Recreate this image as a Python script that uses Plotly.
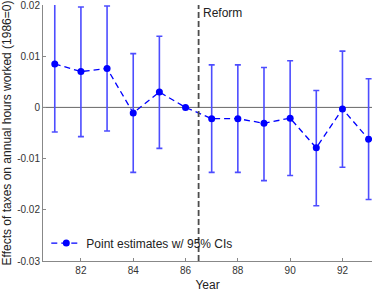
import plotly.graph_objects as go

years = [81, 82, 83, 84, 85, 86, 87, 88, 89, 90, 91, 92, 93]
estimates = [0.0085, 0.0070, 0.0076, -0.0011, 0.0030, 0.0, -0.0022, -0.0022, -0.0031, -0.0021, -0.0079, -0.0003, -0.0062]
ci_upper = [0.0220, 0.0196, 0.0198, 0.0105, 0.0139, 0.0, 0.0083, 0.0083, 0.0078, 0.0091, 0.0033, 0.0110, 0.0056]
ci_lower = [-0.0048, -0.0057, -0.0046, -0.0127, -0.0080, 0.0, -0.0127, -0.0127, -0.0143, -0.0133, -0.0192, -0.0117, -0.0180]
reform_year = 86.5
y_ticks = [0.02, 0.01, 0, -0.01, -0.02, -0.03]
y_tick_labels = ["0.02", "0.01", "0", "-0.01", "-0.02", "-0.03"]
x_ticks = [82, 84, 86, 88, 90, 92]

err_plus = [u - e for u, e in zip(ci_upper, estimates)]
err_minus = [e - l for e, l in zip(estimates, ci_lower)]

font = "Liberation Sans, Arial, sans-serif"

fig = go.Figure()
fig.add_trace(go.Scatter(
    x=years, y=estimates, mode="lines+markers",
    name="Point estimates w/ 95% CIs",
    line=dict(color="#0000ff", width=1.3, dash="6px,4px"),
    marker=dict(color="#0000ff", size=7),
    error_y=dict(type="data", symmetric=False, array=err_plus, arrayminus=err_minus,
                 color="#4d4dff", thickness=1.6, width=3),
))

fig.add_shape(type="line", xref="paper", x0=0, x1=1, yref="y", y0=0, y1=0,
              line=dict(color="#666666", width=1), layer="below")
fig.add_shape(type="line", xref="x", x0=reform_year, x1=reform_year, yref="paper", y0=0, y1=1,
              line=dict(color="#4d4d4d", width=1.8, dash="6px,3px"))
fig.add_annotation(x=reform_year, xref="x", xanchor="left", xshift=2,
                   y=1, yref="paper", yanchor="top", yshift=1,
                   text="Reform", showarrow=False,
                   font=dict(family=font, size=12, color="#222222"))

fig.update_layout(
    width=372, height=292,
    margin=dict(l=43, r=0, t=5, b=31),
    paper_bgcolor="white", plot_bgcolor="white",
    font=dict(family=font, size=10, color="#333333"),
    showlegend=True,
    legend=dict(x=0.01, y=0.07, xanchor="left", yanchor="middle",
                bgcolor="rgba(0,0,0,0)", font=dict(family=font, size=12, color="#222222")),
    xaxis=dict(range=[80.55, 93.13], tickvals=x_ticks, ticks="inside", ticklen=3,
               tickcolor="#888888", showline=True, linecolor="#888888", linewidth=1,
               showgrid=False, zeroline=False, automargin=False,
               title=dict(text="Year", font=dict(family=font, size=12, color="#222222"), standoff=5),
               tickfont=dict(family=font, size=10, color="#333333")),
    yaxis=dict(range=[-0.03, 0.02], tickvals=y_ticks, ticktext=y_tick_labels, ticks="inside",
               ticklen=3, tickcolor="#888888", showline=True, linecolor="#888888", linewidth=1,
               showgrid=False, zeroline=False, ticklabeloverflow="allow", automargin=False,
               title=dict(text="Effects of taxes on annual hours worked (1986=0)",
                          font=dict(family=font, size=12, color="#222222"), standoff=4),
               tickfont=dict(family=font, size=10, color="#333333")),
)

fig.write_html("out.html", config={"displayModeBar": False},
               post_script="document.body.style.margin='0px';")
